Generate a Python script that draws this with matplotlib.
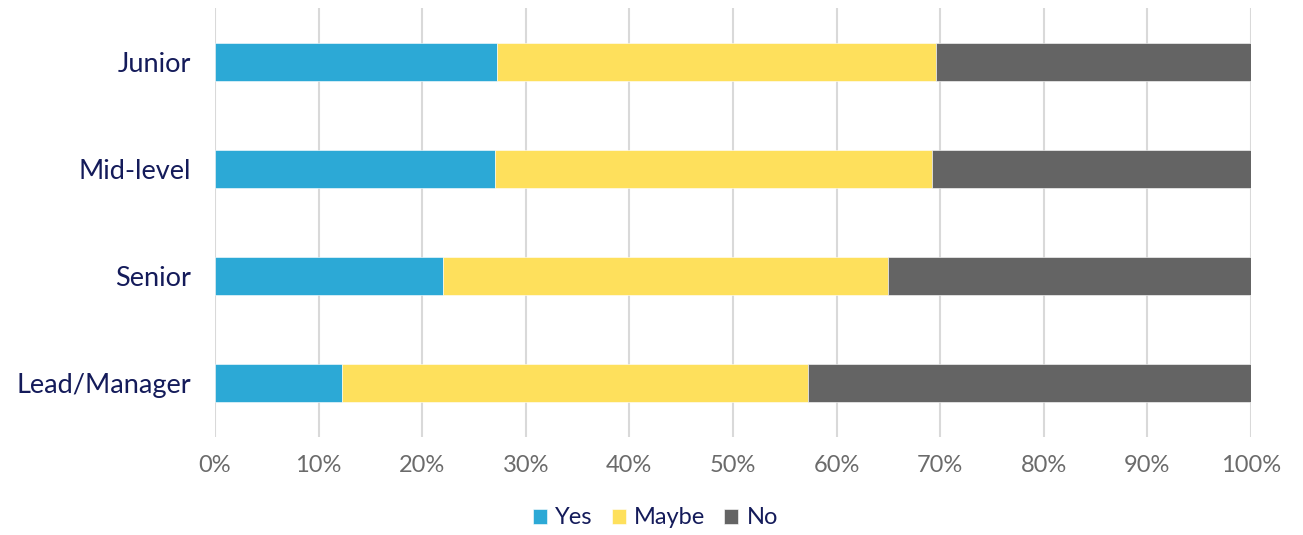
import numpy as np
import matplotlib.pyplot as plt
from matplotlib.ticker import PercentFormatter

# ----------------------------------------------------------------------
# Data (percent of respondents)
# ----------------------------------------------------------------------
levels = ["Junior", "Mid-level", "Senior", "Lead/Manager"]
yes = [27.2, 27.0, 22.0, 12.3]
maybe = [42.4, 42.2, 43.0, 44.9]
no = [30.4, 30.8, 35.0, 42.8]

series_names = ["Yes", "Maybe", "No"]
colors = ["#2CA9D6", "#FEE05C", "#646464"]
navy = "#141B5A"

plt.rcParams["font.family"] = ["Lato", "DejaVu Sans"]

fig = plt.figure(figsize=(13.03, 5.35), dpi=100)
ax = fig.add_axes([0.165, 0.184, 0.795, 0.801])

y = np.arange(len(levels))
left = np.zeros(len(levels))
for name, vals, col in zip(series_names, [yes, maybe, no], colors):
    ax.barh(y, vals, left=left, height=0.355, color=col, label=name,
            edgecolor="white", linewidth=0.4, zorder=3)
    left += np.array(vals)

ax.set_xlim(0, 100)
ax.set_ylim(len(levels) - 0.5, -0.5)
ax.set_yticks(y)
ax.set_yticklabels(levels, fontsize=19.5, color=navy)
ax.set_xticks(np.arange(0, 101, 10))
ax.xaxis.set_major_formatter(PercentFormatter(decimals=0))
ax.tick_params(axis="x", labelsize=17, labelcolor="#6B6B6B", length=0, pad=13)
ax.tick_params(axis="y", length=0, pad=17)

ax.grid(axis="x", color="#D9D9D9", linewidth=1.5, zorder=0)
for s in ax.spines.values():
    s.set_visible(False)

leg = fig.legend(loc="center", bbox_to_anchor=(0.503, 0.032), ncol=3,
                 frameon=False, fontsize=17, handlelength=0.6,
                 handleheight=0.6, handletextpad=0.35, columnspacing=0.8)
for t in leg.get_texts():
    t.set_color(navy)

fig.savefig("out.png", dpi=100)
